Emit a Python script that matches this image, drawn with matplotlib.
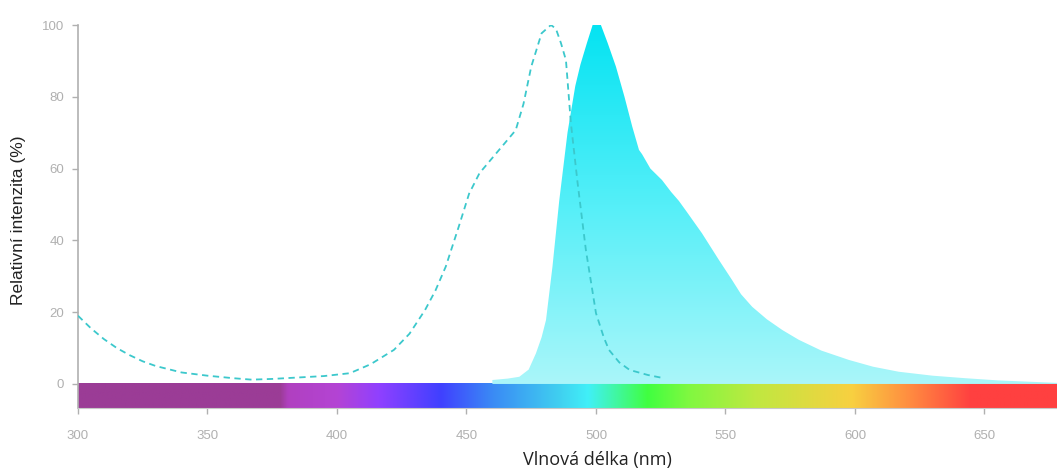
import numpy as np
import matplotlib
matplotlib.use("Agg")
import matplotlib.pyplot as plt
from matplotlib.colors import LinearSegmentedColormap, to_rgb

# excitation spectrum (dashed), wavelength nm / relative %
ex_nm = [300, 305, 310, 315, 320, 325, 330, 340, 350, 360, 367, 375, 385, 395, 405,
         413, 422, 428, 434, 438, 442, 447, 451, 455, 462, 469, 472, 475, 479, 482.6,
         484.5, 486.5, 488.4, 490.3, 492.9, 496.1, 500, 503, 505, 509, 513, 520, 525.5]
ex_val = [19, 15.5, 12.5, 10, 8, 6.3, 5, 3.2, 2.3, 1.6, 1.2, 1.4, 1.8, 2.2, 3.0,
          5.5, 9.5, 14, 20.6, 26, 32.7, 43.8, 53, 58.7, 64.7, 70.7, 78, 88.4, 97.7, 100,
          99, 94.9, 90.2, 72.7, 56, 37.3, 19.7, 13, 9.5, 6, 3.9, 2.5, 1.7]

# emission spectrum (filled)
em_nm = [460, 466, 470.4, 474, 476.8, 479, 480.7, 483.2, 485.8, 489, 492, 494,
         496.5, 498.7, 501.9, 504.5, 507.7, 511, 514, 516.6, 517.8, 521, 525.5, 529, 532,
         535, 540.9, 547.5, 552.5, 556, 560.3, 566, 572, 578.3, 587, 597.6, 607, 616.9,
         630, 642.6, 655, 668, 678]
em_val = [1.1, 1.5, 2, 4, 8.5, 13, 17.8, 32.7, 51, 70, 83, 89,
          95, 100, 100, 95, 88.4, 80, 71.7, 65.2, 64, 60, 56.8, 53.5, 51,
          48, 42, 34.5, 29, 25, 21.5, 18, 15, 12.3, 9.3, 6.7, 4.8, 3.4,
          2.3, 1.6, 1.0, 0.6, 0.3]

# visible spectrum colour stops for the bar
spec_nm = [300, 378, 381, 400, 416, 440, 460, 486, 497, 520, 536, 562, 599, 620, 645, 678]
spec_col = ["#9b3c96", "#9b3c96", "#b040c0", "#b444d4", "#9040ff", "#4040ff", "#3a8af5",
            "#40d0f0", "#40f0f8", "#40ff40", "#80f840", "#c0e840", "#f8d040", "#ff9040",
            "#ff4040", "#ff4040"]

x_ticks = [300, 350, 400, 450, 500, 550, 600, 650]
y_ticks = [0, 20, 40, 60, 80, 100]

XMIN, XMAX = 300, 678
BAR_BOTTOM = -6.7
GREY = "#b0b0b0"

fig = plt.figure(figsize=(10.57, 4.70), dpi=100)
ax = fig.add_axes([78 / 1057, 1 - 408 / 470, 979 / 1057, 383 / 470])

# spectrum bar under the zero line
xs = np.linspace(XMIN, XMAX, 800)
rgb = np.array([to_rgb(c) for c in spec_col])
bar = np.stack([np.interp(xs, spec_nm, rgb[:, i]) for i in range(3)], axis=-1)[None, :, :]
ax.imshow(bar, extent=[XMIN, XMAX, BAR_BOTTOM, 0], aspect="auto", origin="lower",
          interpolation="bilinear", zorder=1)

# emission area with a vertical cyan gradient
poly = ax.fill_between(em_nm, 0, em_val, facecolor="none", edgecolor="none", zorder=2)
grad_cmap = LinearSegmentedColormap.from_list("em", ["#aaf6fa", "#55eff8", "#05e3f2"])
grad = np.linspace(0, 1, 256)[:, None]
im = ax.imshow(grad, extent=[XMIN, XMAX, 0, 100], aspect="auto", origin="lower",
               cmap=grad_cmap, zorder=2)
im.set_clip_path(poly.get_paths()[0], transform=ax.transData)

# excitation dashed line
ax.plot(ex_nm, ex_val, color="#3cc8cc", lw=1.3, linestyle=(0, (3.5, 2.5)), zorder=3)

ax.set_xlim(XMIN, XMAX)
ax.set_ylim(BAR_BOTTOM, 100)
ax.set_xticks(x_ticks)
ax.set_yticks(y_ticks)

for side in ["top", "right"]:
    ax.spines[side].set_visible(False)
ax.spines["left"].set_color(GREY)
ax.spines["bottom"].set_color("#c8c8c8")
ax.spines["left"].set_linewidth(1.2)
ax.spines["bottom"].set_linewidth(0.8)

ax.tick_params(axis="both", colors=GREY, labelcolor=GREY, labelsize=9.5, length=4, width=1)
ax.tick_params(axis="x", pad=12)
ax.tick_params(axis="y", pad=6)
for lbl in ax.get_xticklabels() + ax.get_yticklabels():
    lbl.set_family("Liberation Sans")

fig.text(18 / 1057, 1 - 220 / 470, "Relativní intenzita (%)", rotation=90,
         ha="center", va="center", fontsize=12.5, color="#222222", family="Liberation Sans")
fig.text(597 / 1057, 1 - 460 / 470, "Vlnová délka (nm)", ha="center", va="center",
         fontsize=13, color="#222222", family="Open Sans")

fig.savefig("out.png", dpi=100)
